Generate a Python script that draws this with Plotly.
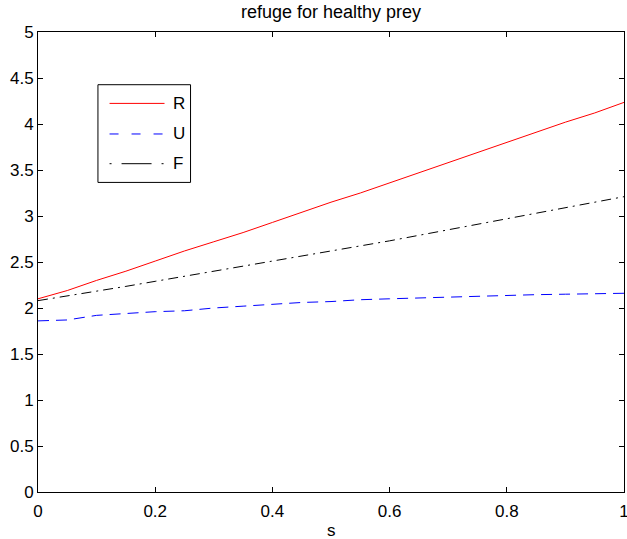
import plotly.graph_objects as go

s_vals = [0.0, 0.05, 0.1, 0.15, 0.2, 0.25, 0.3, 0.35, 0.4, 0.45, 0.5,
          0.55, 0.6, 0.65, 0.7, 0.75, 0.8, 0.85, 0.9, 0.95, 1.0]
R_vals = [2.10, 2.19, 2.30, 2.40, 2.51, 2.62, 2.72, 2.82, 2.93, 3.04, 3.15,
          3.25, 3.36, 3.47, 3.58, 3.69, 3.80, 3.91, 4.02, 4.12, 4.235]
U_vals = [1.86, 1.87, 1.92, 1.94, 1.96, 1.97, 2.00, 2.02, 2.04, 2.06, 2.07,
          2.09, 2.10, 2.11, 2.12, 2.13, 2.14, 2.145, 2.15, 2.155, 2.16]
F_vals = [2.08, 2.13, 2.18, 2.235, 2.29, 2.345, 2.40, 2.455, 2.51, 2.56, 2.615,
          2.67, 2.73, 2.79, 2.85, 2.91, 2.97, 3.03, 3.09, 3.15, 3.21]

series_names = ["R", "U", "F"]
series_colors = ["rgb(255,0,0)", "rgb(0,0,255)", "black"]
series_dash = ["solid", "11px,7px", "10px,5px,2px,5px"]
legend_dash = ["solid", "9px,13px", "2px,10px,30px,10px"]

x_ticks = [0, 0.2, 0.4, 0.6, 0.8, 1]
x_ticktext = ["0", "0.2", "0.4", "0.6", "0.8", "1"]
y_ticks = [0, 0.5, 1, 1.5, 2, 2.5, 3, 3.5, 4, 4.5, 5]
y_ticktext = ["0", "0.5", "1", "1.5", "2", "2.5", "3", "3.5", "4", "4.5", "5"]

FONT = "Liberation Sans, Arial, Helvetica, sans-serif"

fig = go.Figure()
for name, yv, col, dsh in zip(series_names, [R_vals, U_vals, F_vals], series_colors, series_dash):
    fig.add_trace(go.Scatter(x=s_vals, y=yv, mode="lines", name=name, showlegend=False,
                             line=dict(color=col, width=1, dash=dsh)))

axis_common = dict(showgrid=False, zeroline=False, showline=True, linecolor="black",
                   linewidth=1, mirror="ticks", ticks="inside", ticklen=5,
                   tickcolor="black", automargin=False, ticklabeloverflow="allow",
                   tickfont=dict(size=17, color="black", family=FONT))

# manual legend box (MATLAB style)
shapes = [dict(type="rect", xref="paper", yref="paper", x0=0.1023, x1=0.2603,
               y0=0.673, y1=0.8854, line=dict(color="black", width=1),
               fillcolor="white", layer="above")]
annotations = []
leg_y = [0.8448, 0.7783, 0.7137]
for name, col, dsh, ly in zip(series_names, series_colors, legend_dash, leg_y):
    shapes.append(dict(type="line", xref="paper", yref="paper", x0=0.1221, x1=0.2159,
                       y0=ly, y1=ly, line=dict(color=col, width=1, dash=dsh), layer="above"))
    annotations.append(dict(xref="paper", yref="paper", x=0.2274, y=ly, text=name,
                            showarrow=False, xanchor="left", yanchor="middle",
                            font=dict(size=17, color="black", family=FONT)))

annotations.append(dict(xref="paper", yref="paper", x=0.5, y=-0.084, text="s",
                        showarrow=False, xanchor="center", yanchor="middle",
                        font=dict(size=17, color="black", family=FONT)))

fig.update_layout(
    width=627, height=539,
    margin=dict(l=38, r=3, t=32, b=47, pad=0),
    paper_bgcolor="white", plot_bgcolor="white",
    font=dict(family=FONT, color="black"),
    title=dict(text="refuge for healthy prey", xref="paper", x=0.5, xanchor="center",
               y=0.978, yanchor="middle", font=dict(size=18)),
    xaxis=dict(range=[0, 1], tickvals=x_ticks, ticktext=x_ticktext,
               ticklabelstandoff=4, **axis_common),
    yaxis=dict(range=[0, 5], tickvals=y_ticks, ticktext=y_ticktext, **axis_common),
    shapes=shapes,
    annotations=annotations,
    showlegend=False,
)

fig.write_html("out.html", config={"displayModeBar": False},
               post_script="document.body.style.margin='0';")
